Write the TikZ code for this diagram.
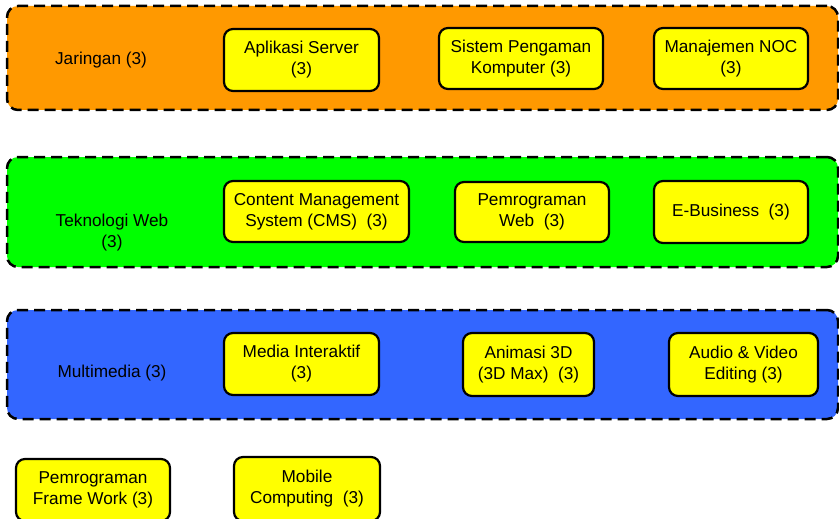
\documentclass[tikz,border=0pt]{standalone}
\usepackage{fontspec}
\setmainfont{Liberation Sans}
\definecolor{bandorange}{HTML}{FF9900}
\definecolor{bandgreen}{HTML}{00FF00}
\definecolor{bandblue}{HTML}{3366FF}
\definecolor{boxyellow}{HTML}{FFFF00}
\tikzset{
  band/.style={draw=black, line width=2.5pt, dash pattern=on 11pt off 6pt, rounded corners=11pt, inner sep=0pt, minimum width=831pt},
  course/.style={draw=black, line width=2.2pt, rounded corners=9pt, fill=boxyellow, inner sep=0pt, align=center, font=\fontsize{17.2}{21}\selectfont},
  bandlabel/.style={align=center, font=\fontsize{17.2}{21}\selectfont, inner sep=0pt}
}
\begin{document}
\begin{tikzpicture}[x=1pt,y=-1pt]
\useasboundingbox (0,0) rectangle (839,519);
\clip (0,0) rectangle (839,519);
% bands
\node[band, fill=bandorange, minimum height=104pt] (b1) at (422.5,58) {};
\node[band, fill=bandgreen, minimum height=110pt] (b2) at (422.5,212) {};
\node[band, fill=bandblue, minimum height=109pt] (b3) at (422.5,364.5) {};
% band labels
\node[bandlabel] (l1) at (101,60) {Jaringan (3)};
\node[bandlabel] (l2) at (112,233) {Teknologi Web\\(3)};
\node[bandlabel] (l3) at (112,373) {Multimedia (3)};
% row 1
\node[course, minimum width=155pt, minimum height=62pt] (c11) at (301.5,60) {Aplikasi Server\\(3)};
\node[course, minimum width=164pt, minimum height=61pt] (c12) at (521,58.5) {Sistem Pengaman\\Komputer (3)};
\node[course, minimum width=154pt, minimum height=61pt] (c13) at (731,58.5) {Manajemen NOC\\(3)};
% row 2
\node[course, minimum width=185pt, minimum height=61pt] (c21) at (316.5,211.5) {Content Management\\System (CMS)\ \ (3)};
\node[course, minimum width=154pt, minimum height=60pt] (c22) at (532,212) {Pemrograman\\Web\ \ (3)};
\node[course, minimum width=154pt, minimum height=62pt] (c23) at (731,212) {E-Business\ \ (3)};
% row 3
\node[course, minimum width=155pt, minimum height=62pt] (c31) at (301.5,364) {Media Interaktif\\(3)};
\node[course, minimum width=131pt, minimum height=63pt] (c32) at (528.5,364.5) {Animasi 3D\\(3D Max)\ \ (3)};
\node[course, minimum width=149pt, minimum height=63pt] (c33) at (743.5,364.5) {Audio \& Video\\Editing (3)};
% row 4
\node[course, minimum width=154pt, minimum height=62pt] (c41) at (93,490) {Pemrograman\\Frame Work (3)};
\node[course, minimum width=146pt, minimum height=64pt] (c42) at (307,489) {Mobile\\Computing\ \ (3)};
\end{tikzpicture}
\end{document}
